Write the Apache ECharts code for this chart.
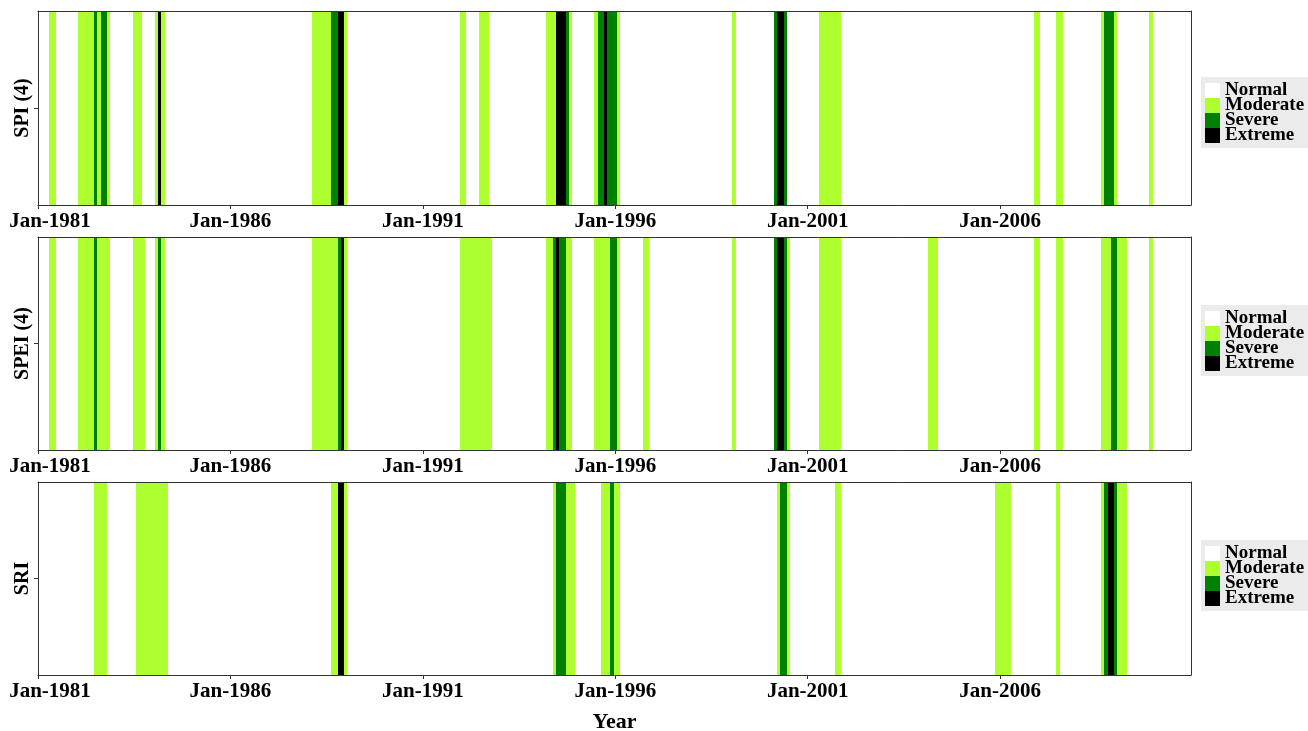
<!DOCTYPE html>
<html>
<head>
<meta charset="utf-8">
<script src="https://cdn.jsdelivr.net/npm/echarts@6/dist/echarts.min.js"></script>
<style>
  html, body { margin: 0; padding: 0; background: #ffffff; }
  #chart { width: 1308px; height: 731px; }
</style>
</head>
<body>
<div id="chart"></div>
<script>
// Monthly drought classes, Jan-1981 .. Dec-2010, month 0 = Jan-1981.
// Each run: [first month, last month, class]; 1 = Moderate, 2 = Severe, 3 = Extreme.
// Months that are not listed are Normal.
const spiRuns = [
  [4, 5, 1],
  [13, 17, 1], [18, 18, 2], [19, 19, 1], [20, 21, 2], [22, 22, 1],
  [30, 32, 1],
  [37, 37, 1], [38, 38, 3], [39, 39, 1],
  [86, 91, 1], [92, 93, 2], [94, 95, 3], [96, 96, 1],
  [132, 133, 1],
  [138, 140, 1],
  [159, 161, 1], [162, 164, 3], [165, 165, 2], [166, 166, 1],
  [174, 174, 1], [175, 176, 2], [177, 177, 3], [178, 180, 2], [181, 181, 1],
  [217, 217, 1],
  [230, 230, 2], [231, 232, 3], [233, 233, 2],
  [244, 250, 1],
  [311, 312, 1],
  [318, 319, 1],
  [332, 332, 1], [333, 335, 2], [336, 336, 1],
  [347, 347, 1]
];

const speiRuns = [
  [4, 5, 1],
  [13, 17, 1], [18, 18, 2], [19, 22, 1],
  [30, 33, 1],
  [37, 37, 1], [38, 38, 2], [39, 39, 1],
  [86, 93, 1], [94, 94, 2], [95, 95, 3], [96, 96, 1],
  [132, 141, 1],
  [159, 160, 1], [161, 161, 2], [162, 162, 3], [163, 164, 2], [165, 166, 1],
  [174, 178, 1], [179, 180, 2], [181, 181, 1],
  [189, 190, 1],
  [217, 217, 1],
  [230, 230, 2], [231, 232, 3], [233, 233, 2], [234, 234, 1],
  [244, 250, 1],
  [278, 280, 1],
  [311, 312, 1],
  [318, 319, 1],
  [332, 334, 1], [335, 336, 2], [337, 339, 1],
  [347, 347, 1]
];

const sriRuns = [
  [18, 21, 1],
  [31, 40, 1],
  [92, 93, 1], [94, 95, 3], [96, 96, 1],
  [161, 161, 1], [162, 164, 2], [165, 167, 1],
  [176, 178, 1], [179, 179, 2], [180, 181, 1],
  [231, 231, 1], [232, 233, 2], [234, 234, 1],
  [249, 250, 1],
  [299, 303, 1],
  [318, 318, 1],
  [332, 332, 1], [333, 333, 2], [334, 335, 3], [336, 336, 2], [337, 339, 1]
];

const panelNames = ['SPI (4)', 'SPEI (4)', 'SRI'];
const panelRuns = [spiRuns, speiRuns, sriRuns];
const classNames = ['Normal', 'Moderate', 'Severe', 'Extreme'];
const classColors = ['#ffffff', '#adff2f', '#008000', '#000000'];
const tickMonths = [0, 60, 120, 180, 240, 300];
const firstYear = 1981;
const lastMonth = 359;

// Panel boxes (pixels) and legend placement
const panelBoxes = [
  { top: 11, height: 194, legendTop: 77 },
  { top: 237, height: 213, legendTop: 305 },
  { top: 482, height: 193, legendTop: 540 }
];
const plotLeft = 38;
const plotWidth = 1153;
const serif = '"Liberation Serif", "Times New Roman", serif';
const frameColor = '#333333';

function monthLabel(v) {
  const m = Math.round(v);
  if (m % 12 !== 0) return '';
  const text = 'Jan-' + (firstYear + m / 12);
  return m === 0 ? '{first|' + text + '}' : text;
}

// one block per run of equal-class months, spanning the full panel height
function renderRun(params, api) {
  const a = api.coord([api.value(0) - 0.5, 1]);
  const b = api.coord([api.value(1) + 0.5, 0]);
  const x0 = Math.round(a[0]);
  const x1 = Math.round(b[0]);
  return {
    type: 'rect',
    shape: { x: x0, y: a[1], width: Math.max(1, x1 - x0), height: b[1] - a[1] },
    style: { fill: api.visual('color') }
  };
}

function runsOfClass(runs, cls) {
  return runs.filter(function (r) { return r[2] === cls; })
             .map(function (r) { return [r[0], r[1]]; });
}

const grids = [], xAxes = [], yAxes = [], series = [], legends = [];

panelBoxes.forEach(function (box, i) {
  grids.push({
    left: plotLeft, top: box.top, width: plotWidth, height: box.height,
    show: false, containLabel: false, outerBoundsMode: 'none'
  });

  const isLast = i === panelBoxes.length - 1;
  xAxes.push({
    gridIndex: i, type: 'value', min: 0, max: lastMonth + 0.5, position: 'bottom', z: 10,
    axisLine: { show: true, onZero: false, lineStyle: { color: frameColor, width: 1 } },
    axisTick: { show: true, customValues: tickMonths, length: 4, lineStyle: { color: frameColor } },
    axisLabel: {
      show: true, customValues: tickMonths, formatter: monthLabel, margin: 6,
      color: '#000', fontFamily: serif, fontWeight: 'bold', fontSize: 21,
      rich: { first: { padding: [0, 0, 0, 24], color: '#000', fontFamily: serif, fontWeight: 'bold', fontSize: 21 } }
    },
    splitLine: { show: false },
    name: isLast ? 'Year' : '', nameLocation: 'middle', nameGap: 36,
    nameTextStyle: { color: '#000', fontFamily: serif, fontWeight: 'bold', fontSize: 22 }
  });
  xAxes.push({
    gridIndex: i, type: 'value', min: 0, max: lastMonth + 0.5, position: 'top', z: 10,
    axisLine: { show: true, onZero: false, lineStyle: { color: frameColor, width: 1 } },
    axisTick: { show: false }, axisLabel: { show: false }, splitLine: { show: false }
  });
  yAxes.push({
    gridIndex: i, type: 'value', min: 0, max: 1, position: 'left', z: 10,
    axisLine: { show: true, onZero: false, lineStyle: { color: frameColor, width: 1 } },
    axisTick: { show: true, customValues: [0.5], length: 4, lineStyle: { color: frameColor } },
    axisLabel: { show: false }, splitLine: { show: false },
    name: panelNames[i], nameLocation: 'middle', nameGap: 5, nameRotate: 90,
    nameTextStyle: { color: '#000', fontFamily: serif, fontWeight: 'bold', fontSize: 20 }
  });
  yAxes.push({
    gridIndex: i, type: 'value', min: 0, max: 1, position: 'right', z: 10,
    axisLine: { show: true, onZero: false, lineStyle: { color: frameColor, width: 1 } },
    axisTick: { show: false }, axisLabel: { show: false }, splitLine: { show: false }
  });

  classNames.forEach(function (name, cls) {
    series.push({
      type: 'custom', name: name,
      xAxisIndex: 2 * i, yAxisIndex: 2 * i,
      renderItem: renderRun, clip: true, silent: true,
      itemStyle: { color: classColors[cls] },
      encode: { x: [0, 1] },
      data: cls === 0 ? [] : runsOfClass(panelRuns[i], cls)
    });
  });

  legends.push({
    data: classNames.map(function (n, k) {
      return { name: n, icon: 'rect', itemStyle: { color: classColors[k], borderWidth: 0 } };
    }),
    orient: 'vertical', left: 1201, top: box.legendTop,
    itemWidth: 15, itemHeight: 15, itemGap: -4,
    selectedMode: false, backgroundColor: '#ebebeb', padding: [4, 4, 3, 4],
    textStyle: { color: '#000', fontFamily: serif, fontWeight: 'bold', fontSize: 19 }
  });
});

const chart = echarts.init(document.getElementById('chart'), null, { renderer: 'canvas' });
chart.setOption({
  animation: false,
  backgroundColor: '#ffffff',
  grid: grids,
  xAxis: xAxes,
  yAxis: yAxes,
  legend: legends,
  series: series
});
</script>
</body>
</html>
